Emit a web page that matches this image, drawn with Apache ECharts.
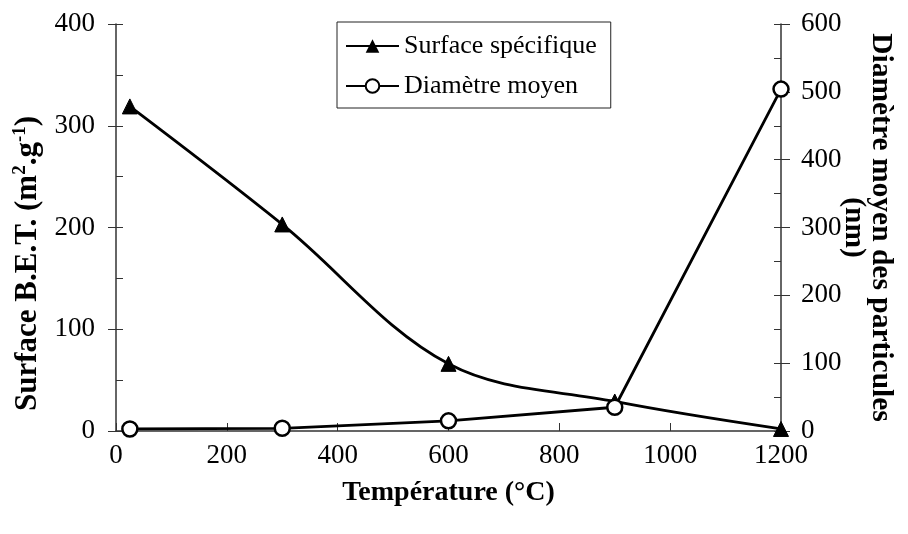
<!DOCTYPE html>
<html>
<head>
<meta charset="utf-8">
<script src="https://cdn.jsdelivr.net/npm/echarts@6/dist/echarts.min.js"></script>
<style>
  html, body { margin: 0; padding: 0; background: #fff; }
  #main { width: 908px; height: 534px; }
</style>
</head>
<body>
<div id="main"></div>
<script>
"use strict";

// temperature (°C)
var temperature = [25, 300, 600, 900, 1200];
// Surface B.E.T. (m2/g) - left axis
var surface = [319, 203, 66, 29, 2];
// mean diameter (nm) - right axis
var diametre = [3, 4, 15, 35, 504];

var xTicks = [0, 200, 400, 600, 800, 1000, 1200];
var leftTicks = [0, 100, 200, 300, 400];
var rightTicks = [0, 100, 200, 300, 400, 500, 600];

function pairs(xs, ys) {
    return xs.map(function (x, i) { return [x, ys[i]]; });
}

var serif = '"Liberation Serif", "Times New Roman", serif';
var ink = '#000';
var axisGrey = '#333';

function yAxisBase(ticks, pos) {
    return {
        type: 'value',
        position: pos,
        min: ticks[0],
        max: ticks[ticks.length - 1],
        interval: ticks[1] - ticks[0],
        splitLine: { show: false }
    };
}

function plain(v) { return String(v); }

var chart = echarts.init(document.getElementById('main'));

chart.setOption({
    backgroundColor: '#fff',
    animation: false,
    grid: { left: 116, right: 127, top: 24, bottom: 103, containLabel: false, outerBoundsMode: 'none' },
    legend: {
        orient: 'vertical',
        left: 337,
        top: 22,
        padding: [11, 14, 9, 8],
        itemGap: 14,
        itemWidth: 53,
        itemHeight: 17,
        borderColor: '#222',
        borderWidth: 1,
        textStyle: { fontFamily: serif, fontSize: 26, color: ink },
        data: ['Surface spécifique', 'Diamètre moyen']
    },
    xAxis: {
        type: 'value',
        min: xTicks[0],
        max: xTicks[xTicks.length - 1],
        interval: xTicks[1] - xTicks[0],
        name: 'Température (°C)',
        nameLocation: 'middle',
        nameGap: 48,
        nameMoveOverlap: false,
        nameTextStyle: { fontFamily: serif, fontSize: 28, fontWeight: 'bold', color: ink },
        axisLine: { lineStyle: { color: axisGrey, width: 1.5 } },
        axisTick: { inside: true, length: 8, lineStyle: { color: axisGrey } },
        axisLabel: { margin: 11, fontFamily: serif, fontSize: 27, color: ink, formatter: plain },
        splitLine: { show: false }
    },
    yAxis: [
        Object.assign(yAxisBase(leftTicks, 'left'), {
            name: 'Surface B.E.T. {p|(m}{sup|2}{p|.g}{sup|-1}{p|)}',
            nameLocation: 'middle',
            nameGap: 72,
            nameMoveOverlap: false,
            nameRotate: 90,
            nameTextStyle: {
                fontFamily: serif, fontSize: 31, fontWeight: 'bold', color: ink,
                padding: [0, 72, 0, 0],
                rich: {
                    p: { fontFamily: serif, fontSize: 31, fontWeight: 'bold', color: ink },
                    sup: { fontFamily: serif, fontSize: 19, fontWeight: 'bold', color: ink, padding: [0, 0, 14, 0] }
                }
            },
            axisLine: { show: true, lineStyle: { color: axisGrey, width: 1.5 } },
            axisTick: { inside: false, length: 8, lineStyle: { color: axisGrey } },
            axisLabel: { margin: 21, fontFamily: serif, fontSize: 27, color: ink, formatter: plain }
        }),
        Object.assign(yAxisBase(rightTicks, 'right'), {
            name: 'Diamètre moyen des particules\n(nm)',
            nameLocation: 'middle',
            nameGap: 59,
            nameMoveOverlap: false,
            nameRotate: -90,
            nameTextStyle: { fontFamily: serif, fontSize: 29.5, fontWeight: 'bold', color: ink, lineHeight: 27 },
            axisLine: { show: true, lineStyle: { color: axisGrey, width: 1.5 } },
            axisTick: { inside: false, length: 9, lineStyle: { color: axisGrey } },
            axisLabel: { margin: 20, fontFamily: serif, fontSize: 27, color: ink, formatter: plain }
        }),
        // inner ticks (major + minor) for the left axis
        Object.assign(yAxisBase(leftTicks, 'left'), {
            axisLine: { show: false },
            axisLabel: { show: false },
            axisTick: { inside: true, length: 7, lineStyle: { color: axisGrey } },
            minorTick: { show: true, splitNumber: 2, length: 7, lineStyle: { color: axisGrey } }
        }),
        // inner ticks (major + minor) for the right axis
        Object.assign(yAxisBase(rightTicks, 'right'), {
            axisLine: { show: false },
            axisLabel: { show: false },
            axisTick: { inside: true, length: 7, lineStyle: { color: axisGrey } },
            minorTick: { show: true, splitNumber: 2, length: 7, lineStyle: { color: axisGrey } }
        })
    ],
    series: [
        {
            name: 'Surface spécifique',
            type: 'line',
            yAxisIndex: 0,
            smooth: 0.35,
            symbol: 'triangle',
            symbolSize: 15,
            lineStyle: { color: ink, width: 2.8 },
            itemStyle: { color: ink, borderColor: ink },
            data: pairs(temperature, surface)
        },
        {
            name: 'Diamètre moyen',
            type: 'line',
            yAxisIndex: 1,
            smooth: false,
            symbol: 'circle',
            symbolSize: 15,
            lineStyle: { color: ink, width: 2.8 },
            itemStyle: { color: '#fff', borderColor: ink, borderWidth: 2.5 },
            data: pairs(temperature, diametre)
        }
    ]
});
</script>
</body>
</html>
